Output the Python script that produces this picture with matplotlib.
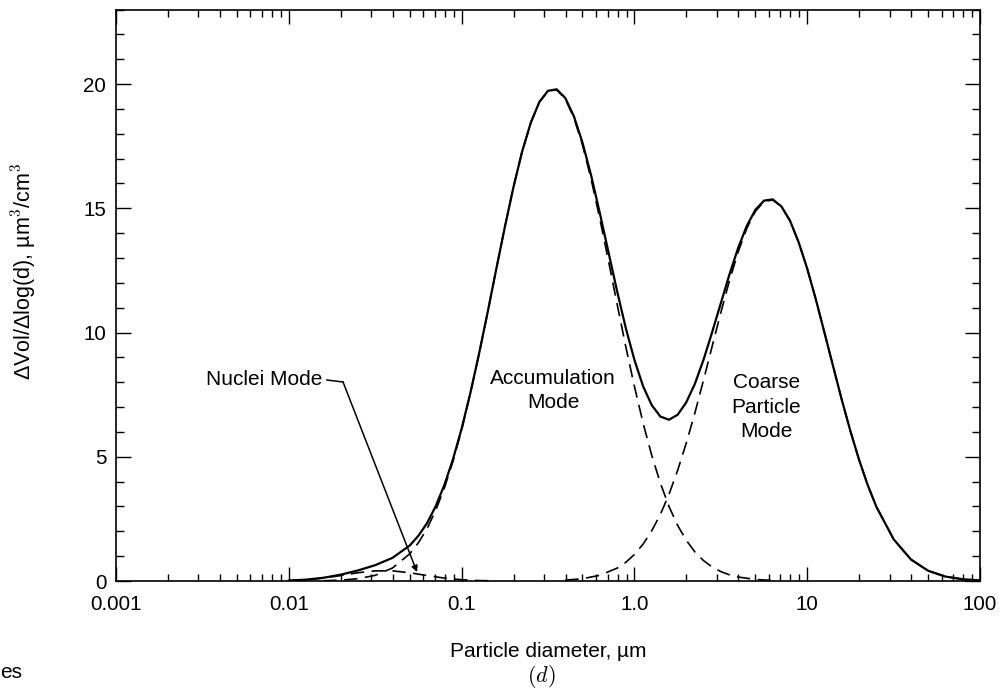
import numpy as np
import matplotlib
matplotlib.use("Agg")
import matplotlib.pyplot as plt
from matplotlib.ticker import FixedLocator, NullFormatter

plt.rcParams['font.family'] = ['Liberation Sans', 'DejaVu Sans']
plt.rcParams['mathtext.fontset'] = 'cm'

# particle diameter (um) and dVol/dlog(d)
d_total = [0.01, 0.01259, 0.01585, 0.01995, 0.02512, 0.03162, 0.03981, 0.05012,
           0.05623, 0.0631, 0.07079, 0.07943, 0.08913, 0.1, 0.1122, 0.1259, 0.1413,
           0.1585, 0.1778, 0.1995, 0.2239, 0.2512, 0.2818, 0.3162, 0.3548, 0.3981,
           0.4467, 0.5012, 0.5623, 0.631, 0.7079, 0.7943, 0.8913, 1.0, 1.122, 1.259,
           1.413, 1.585, 1.778, 1.995, 2.239, 2.512, 2.818, 3.162, 3.548, 3.981,
           4.467, 5.012, 5.623, 6.31, 7.079, 7.943, 8.913, 10.0, 11.22, 12.59, 14.13,
           15.85, 17.78, 19.95, 22.39, 25.12, 31.62, 39.81, 50.12, 63.1, 79.43, 100.0]
v_total = [0.019, 0.056, 0.13, 0.254, 0.426, 0.638, 0.932, 1.43,
           1.82, 2.33, 3.01, 3.86, 4.9, 6.13, 7.55, 9.12, 10.8,
           12.54, 14.24, 15.85, 17.28, 18.44, 19.28, 19.73, 19.79, 19.44,
           18.7, 17.63, 16.31, 14.8, 13.23, 11.66, 10.18, 8.9, 7.84, 7.08,
           6.62, 6.49, 6.69, 7.19, 7.94, 8.91, 10.02, 11.18, 12.34, 13.4,
           14.29, 14.94, 15.31, 15.36, 15.08, 14.51, 13.64, 12.57, 11.33, 9.99, 8.63,
           7.29, 6.03, 4.88, 3.86, 2.99, 1.68, 0.868, 0.411, 0.178, 0.071, 0.026]

d_nuclei = [0.01, 0.01259, 0.01585, 0.01995, 0.02512, 0.03162, 0.03981, 0.05012,
            0.0631, 0.07943, 0.1, 0.1259, 0.1585]
v_nuclei = [0.018, 0.052, 0.118, 0.22, 0.333, 0.409, 0.409, 0.333,
            0.22, 0.118, 0.052, 0.018, 0.005]

d_accum = [0.01585, 0.01995, 0.02512, 0.03162, 0.03981, 0.05012, 0.05623, 0.0631,
           0.07079, 0.07943, 0.08913, 0.1, 0.1122, 0.1259, 0.1413, 0.1585, 0.1778,
           0.1995, 0.2239, 0.2512, 0.2818, 0.3162, 0.3548, 0.3981, 0.4467, 0.5012,
           0.5623, 0.631, 0.7079, 0.7943, 0.8913, 1.0, 1.122, 1.259, 1.413, 1.585,
           1.778, 1.995, 2.239, 2.512, 2.818, 3.162, 3.548, 3.981, 5.012, 6.31]
v_accum = [0.012, 0.034, 0.093, 0.229, 0.523, 1.096, 1.54, 2.11,
           2.84, 3.74, 4.82, 6.08, 7.52, 9.1, 10.79, 12.53, 14.24,
           15.85, 17.28, 18.44, 19.28, 19.72, 19.77, 19.4, 18.64, 17.54,
           16.16, 14.57, 12.88, 11.14, 9.43, 7.83, 6.36, 5.06, 3.94, 3.0,
           2.24, 1.64, 1.17, 0.82, 0.565, 0.38, 0.25, 0.161, 0.063, 0.023]

d_coarse = [0.3981, 0.5012, 0.631, 0.7943, 0.8913, 1.0, 1.122, 1.259, 1.413, 1.585,
            1.778, 1.995, 2.239, 2.512, 2.818, 3.162, 3.548, 3.981, 4.467, 5.012,
            5.623, 6.31, 7.079, 7.943, 8.913, 10.0, 11.22, 12.59, 14.13, 15.85,
            17.78, 19.95, 22.39, 25.12, 31.62, 39.81, 50.12, 63.1, 79.43, 100.0]
v_coarse = [0.035, 0.094, 0.231, 0.519, 0.752, 1.068, 1.483, 2.02, 2.68, 3.49,
            4.45, 5.55, 6.77, 8.09, 9.45, 10.8, 12.09, 13.24, 14.19, 14.88,
            15.27, 15.34, 15.07, 14.5, 13.64, 12.57, 11.33, 9.99, 8.63, 7.29,
            6.03, 4.88, 3.86, 2.99, 1.68, 0.868, 0.411, 0.178, 0.071, 0.026]

x_ticks = [0.001, 0.01, 0.1, 1.0, 10, 100]
x_tick_labels = ['0.001', '0.01', '0.1', '1.0', '10', '100']
y_ticks = [0, 5, 10, 15, 20]

fig = plt.figure(figsize=(10.06, 6.96), dpi=100)
ax = fig.add_axes([0.1153, 0.1652, 0.8589, 0.8211])

ax.plot(d_total, v_total, color='black', lw=1.6, solid_joinstyle='round')
dash = dict(color='black', lw=1.2, linestyle=(0, (8, 4.5)))
ax.plot(d_nuclei, v_nuclei, **dash)
ax.plot(d_accum, v_accum, **dash)
ax.plot(d_coarse, v_coarse, **dash)

ax.set_xscale('log')
ax.set_xlim(0.001, 100)
ax.set_ylim(0, 23)
ax.set_xticks(x_ticks)
ax.set_xticklabels(x_tick_labels)
ax.xaxis.set_minor_locator(FixedLocator(
    [m * 10.0 ** e for e in range(-3, 2) for m in range(2, 10)]))
ax.xaxis.set_minor_formatter(NullFormatter())
ax.set_yticks(y_ticks)
ax.yaxis.set_minor_locator(FixedLocator(range(0, 24)))

ax.tick_params(which='both', direction='in', top=True, right=True,
               labelsize=14.8, width=1.0, color='black')
ax.tick_params(axis='x', which='major', length=10, pad=10)
ax.tick_params(axis='x', which='minor', length=5)
ax.tick_params(axis='y', which='major', length=11, pad=7)
ax.tick_params(axis='y', which='minor', length=6)
for sp in ax.spines.values():
    sp.set_linewidth(1.2)

ax.set_xlabel('Particle diameter, µm', fontsize=15, labelpad=20)
ax.set_ylabel('ΔVol/Δlog(d), µm$^3$/cm$^3$', fontsize=15.5)
ax.yaxis.set_label_coords(-0.0903, 0.5425)

ax.text(0.338, 7.67, 'Accumulation\nMode', ha='center', va='center',
        fontsize=15, linespacing=1.37)
ax.text(5.78, 7.0, 'Coarse\nParticle\nMode', ha='center', va='center',
        fontsize=15, linespacing=1.37)
ax.text(0.01556, 8.13, 'Nuclei Mode', ha='right', va='center', fontsize=15)
ax.plot([0.01663, 0.0206], [8.09, 8.01], color='black', lw=1.1)
ax.annotate('', xy=(0.0552, 0.36), xytext=(0.0206, 8.01),
            arrowprops=dict(arrowstyle='-|>', color='black', lw=1.1,
                            mutation_scale=9, shrinkA=0, shrinkB=0))

fig.text(541 / 1006, 1 - 677 / 696, '$(d)$', ha='center', va='center', fontsize=16)
fig.text(0.0, 1 - 673 / 696, 'es', ha='left', va='center', fontsize=15)

fig.savefig('out.png', dpi=100)
